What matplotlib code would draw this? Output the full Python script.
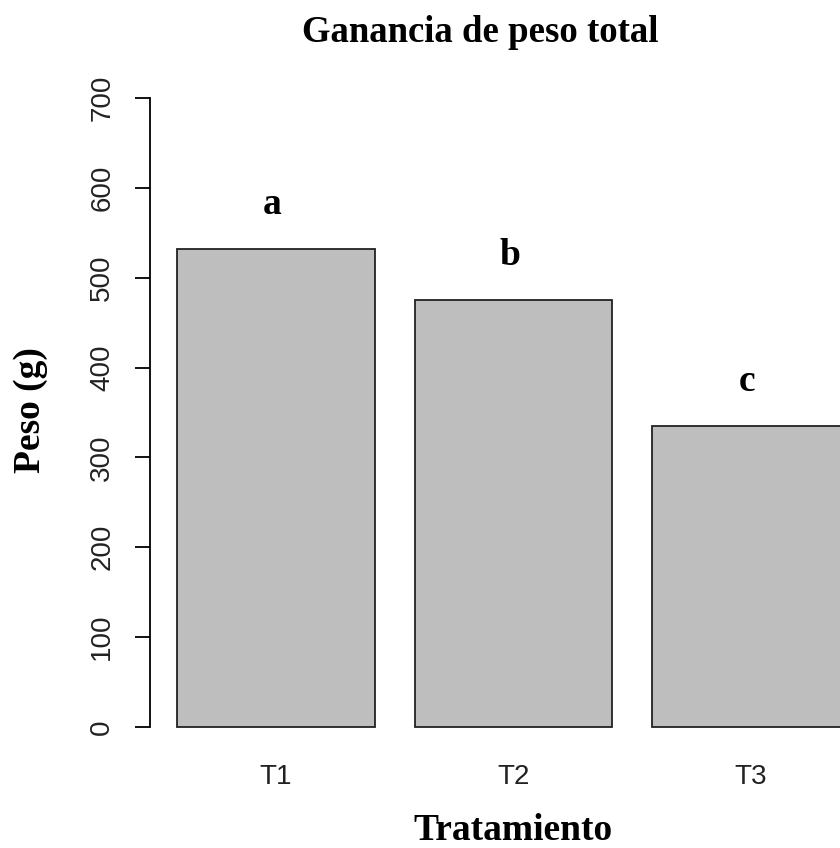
import numpy as np
import matplotlib
matplotlib.use("Agg")
import matplotlib.pyplot as plt

# data
tratamientos = ["T1", "T2", "T3"]
peso = [532, 475, 335]
letras = ["a", "b", "c"]
yticks = [0, 100, 200, 300, 400, 500, 600, 700]

# R barplot style geometry: width 1, space 0.2
x_left = 0.2 + np.arange(len(peso)) * 1.2
x_mid = x_left + 0.5

fig = plt.figure(figsize=(8.4, 8.48), dpi=100)
# plot region runs past the right edge, like the original
ax = fig.add_axes([150 / 840, 96 / 848, 727 / 840, 679 / 848])

ax.bar(x_mid, peso, width=1.0, color="#bebebe", edgecolor="#222222", linewidth=1.3)

for xm, v, l in zip(x_mid, peso, letras):
    ax.text(xm - 0.02, v + 50, l, ha="center", va="center", fontsize=27,
            fontweight="bold", family="Liberation Serif")

ax.set_xlim(0.064, 3.736)
ax.set_ylim(-28, 728)

for s in ["top", "right", "bottom"]:
    ax.spines[s].set_visible(False)
ax.spines["left"].set_bounds(0, 700)
ax.spines["left"].set_linewidth(1.3)

ax.set_yticks(yticks)
ax.set_yticklabels([str(t) for t in yticks], rotation=90, va="center",
                   fontsize=20, family="Liberation Sans", color="#222222")
ax.tick_params(axis="y", length=11, width=1.3, pad=14)

ax.set_xticks(x_mid)
ax.set_xticklabels(tratamientos, fontsize=20, family="Liberation Sans", color="#222222")
ax.tick_params(axis="x", length=0, pad=9)

ax.set_xlabel("Tratamiento", fontsize=27, fontweight="bold", family="Liberation Serif", labelpad=16)
fig.text(30 / 840, 1 - 410 / 848, "Peso (g)", rotation=90, ha="center", va="center",
         fontsize=27, fontweight="bold", family="Liberation Serif")
fig.text(480 / 840, 1 - 33 / 848, "Ganancia de peso total", ha="center", va="center",
         fontsize=26.5, fontweight="bold", family="Liberation Serif")

fig.savefig("out.png", dpi=100)
